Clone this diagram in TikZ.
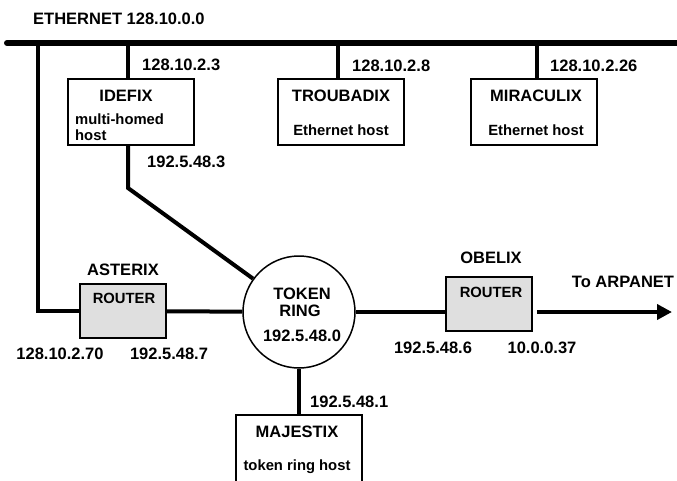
\documentclass[tikz,border=0pt]{standalone}
\usepackage{fontspec}
\setmainfont{Liberation Sans}
\usetikzlibrary{positioning, calc, arrows.meta}

\begin{document}
\begin{tikzpicture}[x=1pt, y=-1pt]
    \tikzstyle{bigtext} = [font=\fontsize{16.5}{19}\selectfont\bfseries, inner sep=0pt]
    \tikzstyle{smalltext} = [font=\fontsize{14.8}{17}\selectfont\bfseries, inner sep=0pt]
    \tikzstyle{host} = [rectangle, draw=black, line width=1.5pt, minimum width=126pt, minimum height=66pt]
    \tikzstyle{router} = [host, fill=gray!25, minimum width=86pt, minimum height=54pt]
    \tikzstyle{ring} = [circle, draw=black, line width=1.5pt, minimum size=112pt]
    \tikzstyle{bus} = [line width=6pt, line cap=round]
    \tikzstyle{link} = [line width=4pt]
    \tikzstyle{arrow} = [link, -{Triangle[length=15pt,width=15pt]}]

    \useasboundingbox (0,0) rectangle (677,480);
    \clip (0,0) rectangle (677,480);

    % ethernet backbone
    \coordinate (busL) at (7,43);
    \coordinate (busR) at (684,43);
    \coordinate (tapA) at (38,43);
    \coordinate (tapI) at (128,43);
    \coordinate (tapT) at (338,43);
    \coordinate (tapM) at (537,43);
    \draw [bus] (busL) -- (busR);
    \node (ethlabel) [bigtext, anchor=base west] at (33,24) {ETHERNET 128.10.0.0};

    % hosts
    \node (idefix) [host] at (131,112) {};
    \node (troubadix) [host] at (341,112) {};
    \node (miraculix) [host] at (534,112) {};
    \node (majestix) [host, minimum height=100pt] at (299,465) {};

    % routers and ring
    \node (asterix) [router] at (123,311) {};
    \node (obelix) [router] at (489,304) {};
    \node (ring) [ring] at (299,312) {};
    \coordinate (bend) at (128,188);
    \coordinate (arpanet) at (672,312);

    % texts
    \node (idefixname) [bigtext, anchor=base] at (126,101.7) {IDEFIX};
    \node (idefixkind) [smalltext, anchor=base west] at (75,124) {multi-homed};
    \node (idefixhost) [smalltext, anchor=base west] at (75,140.7) {host};
    \node (troubname) [bigtext, anchor=base] at (341,101) {TROUBADIX};
    \node (troubkind) [smalltext, anchor=base] at (341,135) {Ethernet host};
    \node (miraname) [bigtext, anchor=base] at (536,101) {MIRACULIX};
    \node (mirakind) [smalltext, anchor=base] at (536,135) {Ethernet host};
    \node (majname) [bigtext, anchor=base] at (297,437.7) {MAJESTIX};
    \node (majkind) [smalltext, anchor=base] at (297,470.7) {token ring host};
    \node (astname) [bigtext, anchor=base] at (123,275) {ASTERIX};
    \node (astkind) [smalltext, anchor=base] at (124,303.3) {ROUTER};
    \node (obename) [bigtext, anchor=base] at (491,263.3) {OBELIX};
    \node (obekind) [smalltext, anchor=base] at (491,297.7) {ROUTER};
    \node (ringname) [bigtext, anchor=base, align=center] at (302,299) {TOKEN};
    \node (ringname2) [bigtext, anchor=base] at (300,316.7) {RING};
    \node (ringnet) [bigtext, anchor=base] at (302,341.3) {192.5.48.0};
    \node (arpalabel) [bigtext, anchor=base] at (623,287.3) {To ARPANET};

    % addresses
    \node (ipI) [bigtext, anchor=base west] at (142,70) {128.10.2.3};
    \node (ipT) [bigtext, anchor=base west] at (352,71) {128.10.2.8};
    \node (ipM) [bigtext, anchor=base west] at (550,71) {128.10.2.26};
    \node (ipI2) [bigtext, anchor=base west] at (147,167.3) {192.5.48.3};
    \node (ipA1) [bigtext, anchor=base] at (60,359) {128.10.2.70};
    \node (ipA2) [bigtext, anchor=base] at (169,359) {192.5.48.7};
    \node (ipO1) [bigtext, anchor=base] at (433,353.3) {192.5.48.6};
    \node (ipO2) [bigtext, anchor=base] at (542,353.3) {10.0.0.37};
    \node (ipJ) [bigtext, anchor=base west] at (310,407) {192.5.48.1};

    % connectors
    \draw [link] (tapA) |- (asterix);
    \draw [link] (tapI) -- (tapI |- idefix.north);
    \draw [link] (tapT) -- (tapT |- troubadix.north);
    \draw [link] (tapM) -- (tapM |- miraculix.north);
    \draw [link] (bend |- idefix.south) -- (bend) -- (ring);
    \draw [link] (asterix) -- (ring);
    \draw [link] (ring.east) -- (ring.east -| obelix.west);
    \draw [arrow] (ring.east -| obelix.east) ++(4,0) -- (arpanet);
    \draw [link] (ring) -- (majestix);
\end{tikzpicture}
\end{document}
